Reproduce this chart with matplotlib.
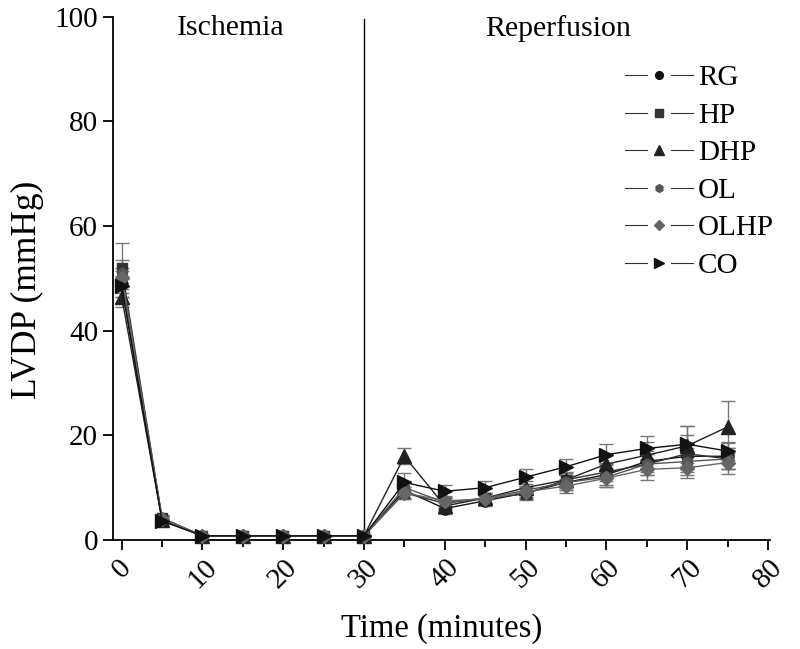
import matplotlib
matplotlib.use("Agg")
import matplotlib.pyplot as plt
from matplotlib.legend_handler import HandlerLine2D
from matplotlib.lines import Line2D
import numpy as np

plt.rcParams['font.family'] = ['Liberation Serif', 'DejaVu Serif']

time = [0, 5, 10, 15, 20, 25, 30, 35, 40, 45, 50, 55, 60, 65, 70, 75]

series_names = ["RG", "HP", "DHP", "OL", "OLHP", "CO"]

rg = [49.0, 4.0, 0.8, 0.8, 0.8, 0.8, 0.8, 9.5, 6.0, 7.5, 9.0, 11.0, 12.5, 15.0, 16.0, 16.0]
hp = [52.0, 4.2, 0.8, 0.8, 0.8, 0.8, 0.8, 9.0, 7.0, 8.0, 8.8, 11.5, 13.0, 14.5, 16.5, 15.5]
dhp = [46.5, 3.8, 0.8, 0.8, 0.8, 0.8, 0.8, 16.0, 6.5, 8.0, 10.0, 11.5, 14.5, 16.2, 18.0, 21.6]
ol = [51.0, 4.0, 0.8, 0.8, 0.8, 0.8, 0.8, 10.0, 7.2, 8.0, 9.5, 11.0, 12.0, 14.5, 15.0, 15.5]
olhp = [50.0, 4.0, 0.8, 0.8, 0.8, 0.8, 0.8, 9.0, 7.5, 7.8, 9.2, 10.3, 11.8, 13.5, 13.8, 14.8]
co = [48.5, 3.6, 0.8, 0.8, 0.8, 0.8, 0.8, 11.0, 9.3, 10.0, 12.0, 14.0, 16.3, 17.5, 18.3, 17.0]

rg_err = [2.5, 0.5, 0.1, 0.1, 0.1, 0.1, 0.1, 1.5, 1.0, 1.0, 1.2, 1.5, 2.0, 2.0, 2.5, 2.5]
hp_err = [4.7, 0.5, 0.1, 0.1, 0.1, 0.1, 0.1, 1.2, 1.0, 1.0, 1.2, 1.3, 1.8, 2.0, 3.5, 2.0]
dhp_err = [2.0, 0.5, 0.1, 0.1, 0.1, 0.1, 0.1, 1.5, 1.0, 1.0, 1.2, 1.5, 2.0, 2.5, 3.8, 5.0]
ol_err = [2.5, 0.5, 0.1, 0.1, 0.1, 0.1, 0.1, 1.2, 1.0, 1.0, 1.2, 1.5, 1.8, 2.0, 2.5, 2.0]
olhp_err = [2.0, 0.5, 0.1, 0.1, 0.1, 0.1, 0.1, 1.2, 1.0, 1.0, 1.2, 1.3, 1.6, 2.0, 2.0, 2.2]
co_err = [2.0, 0.5, 0.1, 0.1, 0.1, 0.1, 0.1, 1.8, 1.2, 1.3, 1.6, 1.5, 2.0, 2.3, 3.5, 1.8]

values = [rg, hp, dhp, ol, olhp, co]
errors = [rg_err, hp_err, dhp_err, ol_err, olhp_err, co_err]
markers = ['o', 's', '^', 'h', 'D', '>']
colors = ['#111111', '#333333', '#222222', '#555555', '#666666', '#111111']
msizes = [8, 7.5, 10, 8, 7, 10]


class GapHandler(HandlerLine2D):
    def create_artists(self, legend, orig_handle, xdescent, ydescent,
                       width, height, fontsize, trans):
        y = (height - ydescent) / 2.0
        x0 = -xdescent
        x1 = -xdescent + width
        mid = (x0 + x1) / 2.0
        gap = 0.17 * width
        l1 = Line2D([x0, mid - gap], [y, y], color='#333333', lw=0.8)
        l2 = Line2D([mid + gap, x1], [y, y], color='#333333', lw=0.8)
        mk = Line2D([mid], [y], marker=orig_handle.get_marker(), linestyle='none',
                    markersize=orig_handle.get_markersize() * 0.7,
                    markerfacecolor=orig_handle.get_markerfacecolor(),
                    markeredgecolor=orig_handle.get_markeredgecolor())
        for a in (l1, l2, mk):
            a.set_transform(trans)
        return [l1, l2, mk]


fig = plt.figure(figsize=(8.0, 6.49), dpi=100)
ax = fig.add_axes([0.141, 0.168, 0.822, 0.806])

for name, v, e, m, c, ms in zip(series_names, values, errors, markers, colors, msizes):
    ax.errorbar(time, v, yerr=e, fmt='none', ecolor='#777777', elinewidth=1,
                capsize=5, capthick=1, clip_on=False, zorder=2)
    ax.plot(time, v, color=c, lw=1, marker=m, markersize=ms, markerfacecolor=c,
            markeredgecolor=c, label=name, clip_on=False, zorder=3)

ax.axvline(30, ymax=0.995, color='black', lw=1, zorder=1)
ax.text(13.5, 97.8, "Ischemia", ha='center', va='center', fontsize=21.5)
ax.text(54, 97.8, "Reperfusion", ha='center', va='center', fontsize=21.5)

ax.set_xlim(-1.1, 80.3)
ax.set_ylim(0, 100)
ax.set_xticks(np.arange(0, 81, 10))
ax.set_xticks(np.arange(5, 80, 10), minor=True)
ax.set_yticks(np.arange(0, 101, 20))
ax.tick_params(axis='x', which='major', labelsize=21, length=7, width=1.3, direction='out', labelrotation=45)
ax.tick_params(axis='x', which='minor', length=5, width=1.3, direction='out')
ax.tick_params(axis='y', which='major', labelsize=21, length=7, width=1.3, direction='out')
for lab in ax.get_xticklabels():
    lab.set_ha('center')
    lab.set_va('top')

ax.spines['top'].set_visible(False)
ax.spines['right'].set_visible(False)
ax.spines['left'].set_linewidth(1.3)
ax.spines['bottom'].set_linewidth(1.3)

ax.set_xlabel("Time (minutes)", fontsize=23.5, labelpad=14)
ax.set_ylabel("LVDP (mmHg)", fontsize=25.5)
ax.yaxis.set_label_coords(-0.104, 0.478)

leg = ax.legend(loc='upper left', bbox_to_anchor=(625 / 800, 1 - 65 / 649),
                bbox_transform=fig.transFigure, frameon=False, fontsize=21,
                handlelength=2.33, labelspacing=0.38, handletextpad=0.17,
                borderpad=0, borderaxespad=0,
                handler_map={Line2D: GapHandler()})

fig.savefig("out.png", dpi=100)
